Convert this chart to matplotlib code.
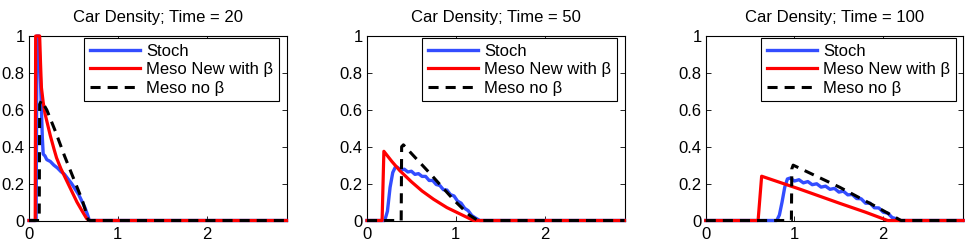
import matplotlib
matplotlib.use("Agg")
import matplotlib.pyplot as plt

plt.rcParams['font.family'] = ['Liberation Sans', 'DejaVu Sans']
plt.rcParams['font.size'] = 12

times = [20, 50, 100]
labels = ["Stoch", "Meso New with \u03b2", "Meso no \u03b2"]

# Time = 20
stoch20_x = [0, 0.08, 0.09, 0.11, 0.13, 0.14, 0.15, 0.16, 0.18, 0.20, 0.24, 0.28, 0.32, 0.36, 0.40, 0.44,
             0.48, 0.52, 0.56, 0.60, 0.63, 0.66, 0.68, 2.9]
stoch20_y = [0, 0, 1.0, 1.0, 0.75, 0.60, 0.45, 0.36, 0.35, 0.33, 0.32, 0.30, 0.285, 0.265, 0.25, 0.225,
             0.20, 0.17, 0.14, 0.10, 0.07, 0.03, 0, 0]
meso20_x = [0, 0.07, 0.075, 0.12, 0.13, 0.14, 0.16, 0.18, 0.21, 0.24, 0.28, 0.31, 0.36, 0.43, 0.48,
            0.54, 0.60, 0.65, 0.68, 2.9]
meso20_y = [0, 0, 1.0, 1.0, 0.85, 0.72, 0.64, 0.58, 0.52, 0.46, 0.39, 0.34, 0.28, 0.21, 0.16,
            0.10, 0.05, 0.01, 0, 0]
nobeta20_x = [0, 0.115, 0.12, 0.14, 0.20, 0.30, 0.40, 0.50, 0.60, 0.67, 2.9]
nobeta20_y = [0, 0, 0.63, 0.65, 0.60, 0.48, 0.35, 0.23, 0.11, 0, 0]

# Time = 50
stoch50_x = [0, 0.20, 0.23, 0.26, 0.29, 0.32, 0.34, 0.38, 0.42, 0.46, 0.50, 0.54, 0.58, 0.62, 0.66,
             0.70, 0.74, 0.78, 0.82, 0.86, 0.90, 0.94, 0.98, 1.02, 1.06, 1.10, 1.14, 1.18, 1.22,
             1.27, 2.9]
stoch50_y = [0, 0, 0.05, 0.18, 0.26, 0.29, 0.289, 0.273, 0.278, 0.263, 0.267, 0.250, 0.254, 0.239, 0.239,
             0.217, 0.217, 0.195, 0.190, 0.167, 0.165, 0.140, 0.133, 0.105, 0.094, 0.066, 0.053, 0.027,
             0.014, 0, 0]
meso50_x = [0, 0.17, 0.19, 0.28, 0.37, 0.50, 0.62, 0.75, 0.90, 1.05, 1.20, 2.9]
meso50_y = [0, 0, 0.375, 0.32, 0.27, 0.21, 0.16, 0.115, 0.07, 0.035, 0, 0]
nobeta50_x = [0, 0.385, 0.39, 0.41, 0.70, 0.98, 1.15, 1.25, 2.9]
nobeta50_y = [0, 0, 0.40, 0.41, 0.26, 0.11, 0.03, 0, 0]

# Time = 100
stoch100_x = [0, 0.80, 0.83, 0.86, 0.89, 0.92, 0.95, 1.0, 1.05, 1.1, 1.15, 1.2, 1.25, 1.3, 1.35, 1.4,
              1.45, 1.5, 1.55, 1.6, 1.65, 1.7, 1.75, 1.8, 1.85, 1.9, 1.95, 2.0, 2.05, 2.1, 2.15,
              2.18, 2.9]
stoch100_y = [0, 0, 0.03, 0.10, 0.18, 0.225, 0.23, 0.214, 0.221, 0.204, 0.211, 0.194, 0.199, 0.181, 0.186,
              0.169, 0.174, 0.154, 0.159, 0.139, 0.141, 0.119, 0.118, 0.094, 0.094, 0.069, 0.068,
              0.045, 0.04, 0.016, 0.009, 0, 0]
meso100_x = [0, 0.59, 0.63, 1.06, 1.51, 1.80, 2.05, 2.9]
meso100_y = [0, 0, 0.24, 0.17, 0.093, 0.045, 0, 0]
nobeta100_x = [0, 0.965, 0.97, 0.985, 1.51, 1.90, 2.20, 2.9]
nobeta100_y = [0, 0, 0.28, 0.30, 0.18, 0.08, 0, 0]

stoch = [(stoch20_x, stoch20_y), (stoch50_x, stoch50_y), (stoch100_x, stoch100_y)]
meso = [(meso20_x, meso20_y), (meso50_x, meso50_y), (meso100_x, meso100_y)]
nobeta = [(nobeta20_x, nobeta20_y), (nobeta50_x, nobeta50_y), (nobeta100_x, nobeta100_y)]

fig = plt.figure(figsize=(9.69, 2.43), dpi=100)
lefts = [29/969, 367/969, 705.7/969]

for i in range(3):
    ax = fig.add_axes([lefts[i], 1-220.5/243, 257.5/969, 184.5/243])
    ax.plot(*stoch[i], color=(0.2, 0.3, 1.0), lw=2.4, label=labels[0], clip_on=False, zorder=3)
    ax.plot(*meso[i], color='red', lw=2.3, label=labels[1], clip_on=False, zorder=3.1)
    ax.plot(*nobeta[i], color='black', lw=2.2, dashes=(3.3, 2.3), label=labels[2],
            clip_on=False, zorder=3.2)
    ax.set_xlim(0, 2.9)
    ax.set_ylim(0, 1)
    ax.set_xticks([0, 1, 2])
    ax.set_yticks([0, 0.2, 0.4, 0.6, 0.8, 1])
    ax.set_yticklabels(["0", "0.2", "0.4", "0.6", "0.8", "1"])
    ax.tick_params(direction='in', top=True, right=True, length=3.5, width=0.6)
    ax.tick_params(axis='x', pad=5)
    ax.tick_params(axis='y', pad=3)
    for s in ax.spines.values():
        s.set_linewidth(0.8)
    ax.set_title("Car Density; Time = %d" % times[i], fontsize=12, pad=10)
    leg = ax.legend(loc='upper right', bbox_to_anchor=(0.971, 0.989), borderaxespad=0,
                    fancybox=False, framealpha=1, edgecolor='black', fontsize=12,
                    handlelength=3.0, handletextpad=0.36, labelspacing=0.2, borderpad=0.35)
    leg.get_frame().set_linewidth(0.8)
    leg.set_zorder(5)

fig.savefig("out.png", dpi=100)
